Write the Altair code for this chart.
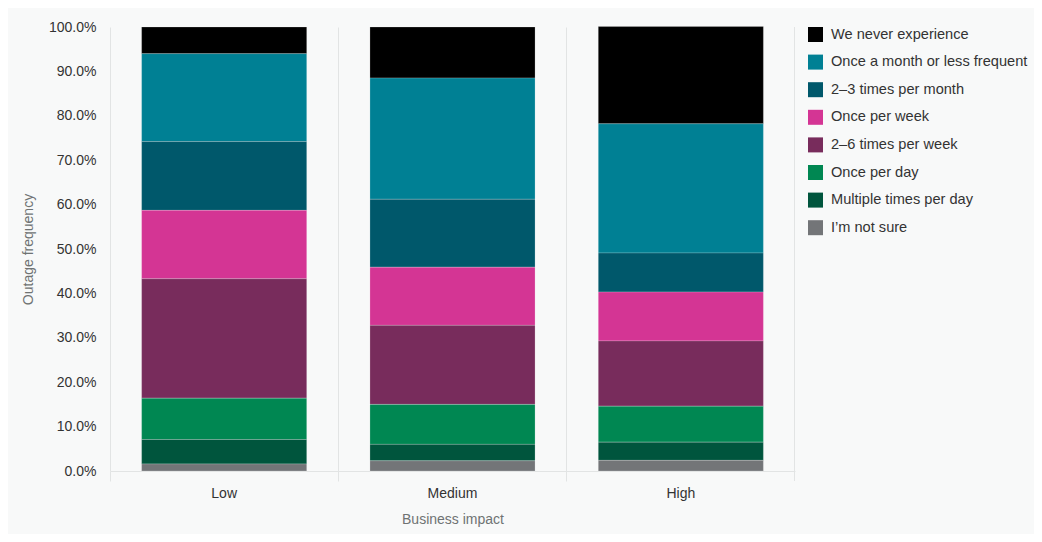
import altair as alt
import pandas as pd

impacts = ["Low", "Medium", "High"]
categories = [
    "We never experience",
    "Once a month or less frequent",
    "2\u20133 times per month",
    "Once per week",
    "2\u20136 times per week",
    "Once per day",
    "Multiple times per day",
    "I\u2019m not sure",
]
colors = ["#000000", "#008094", "#00586B", "#D43594", "#782C5C", "#008752", "#00553D", "#737578"]

# percentages per category, in the order of `categories`
low = [6.0, 19.8, 15.5, 15.4, 26.9, 9.3, 5.5, 1.6]
medium = [11.5, 27.3, 15.3, 13.1, 17.8, 9.0, 3.7, 2.3]
high = [21.9, 29.1, 8.8, 11.0, 14.7, 8.1, 4.1, 2.4]

rows = []
for imp, vals in zip(impacts, [low, medium, high]):
    for i, (c, v) in enumerate(zip(categories, vals)):
        rows.append({"impact": imp, "category": c, "value": v / 100.0,
                     "order": len(categories) - i})
df = pd.DataFrame(rows)

W, H = 685, 444
FONT = "Liberation Sans"

bars = alt.Chart(df).mark_bar(
    width=alt.RelativeBandSize(0.723), stroke="#ffffff", strokeOpacity=0.2, strokeWidth=1
).encode(
    x=alt.X("impact:N", sort=impacts, title="Business impact",
            scale=alt.Scale(paddingInner=0, paddingOuter=0),
            axis=alt.Axis(bandPosition=0, grid=True, gridColor="#e2e4e4", gridWidth=1,
                          ticks=True, tickSize=10, tickColor="#e2e4e4", domainColor="#e2e4e4",
                          labelAngle=0, labelFontSize=14, labelColor="#333333", labelPadding=5,
                          titleFontSize=14, titleColor="#6f7373", titleFontWeight="normal",
                          titlePadding=12, labelFont=FONT, titleFont=FONT)),
    y=alt.Y("value:Q", stack="zero", title="Outage frequency",
            scale=alt.Scale(domain=[0, 1], nice=False),
            axis=alt.Axis(values=[i / 10 for i in range(11)], format=".1%", grid=False,
                          ticks=False, domain=False, labelFontSize=14, labelColor="#333333",
                          labelPadding=14, titleFontSize=14, titleColor="#6f7373",
                          titleFontWeight="normal", titlePadding=13, labelFont=FONT,
                          titleFont=FONT)),
    color=alt.Color("category:N", sort=categories, title=None,
                    scale=alt.Scale(domain=categories, range=colors),
                    legend=alt.Legend(orient="right", offset=13, symbolType="square",
                                      symbolSize=225, symbolStrokeWidth=0, labelFontSize=14.6,
                                      labelColor="#333333", labelFont=FONT, rowPadding=11.6,
                                      labelOffset=8, symbolOpacity=1, labelLimit=400)),
    order=alt.Order("order:Q", sort="ascending"),
)

edge = alt.Chart(pd.DataFrame({"v": [0]})).mark_rule(color="#e2e4e4", strokeWidth=1).encode(
    x=alt.value(W - 0.5), y=alt.value(0), y2=alt.value(H + 10)
)

chart = alt.layer(bars, edge).properties(
    width=W, height=H,
    background="#f8f9f9",
    padding={"left": 102, "top": 19, "right": 239, "bottom": 63},
    autosize=alt.AutoSizeParams(type="none"),
).configure_view(stroke=None)

chart.save("out.html", embed_options={"renderer": "svg", "actions": False})
